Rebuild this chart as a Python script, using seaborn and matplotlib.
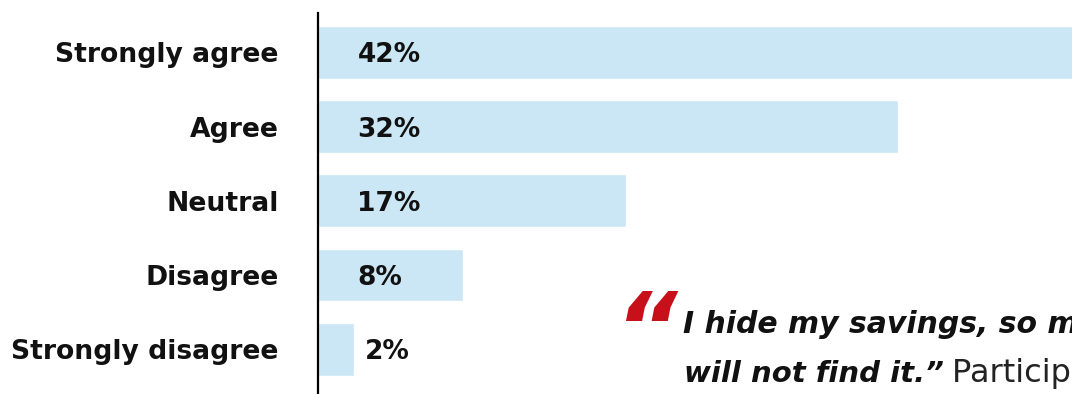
import matplotlib
matplotlib.use("Agg")
import matplotlib.pyplot as plt
import matplotlib.transforms as mtransforms
import seaborn as sns
import pandas as pd

# Survey responses
categories = ["Strongly agree", "Agree", "Neutral", "Disagree", "Strongly disagree"]
shares = [42, 32, 17, 8, 2]
value_labels = ["42%", "32%", "17%", "8%", "2%"]

quote_line1 = "I hide my savings, so my husband"
quote_line2 = "will not find it.\u201d"
quote_source = "Participant, Kampala"

BAR_COLOR = "#CBE7F5"
QUOTE_RED = "#C8101A"

sns.set_theme(style="white")
plt.rcParams["font.family"] = ["DejaVu Sans"]

W, H, DPI = 1072, 394, 100
fig = plt.figure(figsize=(W / DPI, H / DPI), dpi=DPI)

# Axes laid out in pixels; the value axis runs past the right edge
px_per_unit = 18.15
x_max = 50
ax_left = 317.5
ax_width = px_per_unit * x_max
row_px = 74.25
y_top_lim, y_bot_lim = -0.53, 5.0
ax_top = 13
ax_height = (y_bot_lim - y_top_lim) * row_px
ax = fig.add_axes([ax_left / W, (H - ax_top - ax_height) / H, ax_width / W, ax_height / H])

df = pd.DataFrame({"category": categories, "share": shares})
sns.barplot(data=df, x="share", y="category", orient="h", color=BAR_COLOR,
            saturation=1, width=0.71, ax=ax)

ax.set_xlim(0, x_max)
ax.set_ylim(y_bot_lim, y_top_lim)
ax.set_xlabel("")
ax.set_ylabel("")
ax.set_xticks([])
for side in ("top", "right", "bottom"):
    ax.spines[side].set_visible(False)
ax.spines["left"].set_color("black")
ax.spines["left"].set_linewidth(1.6)
ax.tick_params(axis="y", length=0, pad=28)
for lbl in ax.get_yticklabels():
    lbl.set_fontsize(19.2)
    lbl.set_fontweight("bold")
    lbl.set_color("#111111")

# Percentage labels: inside long bars, just past short ones
inside_offset = 40 / px_per_unit
label_shift = mtransforms.ScaledTranslation(0, -10 / DPI, fig.dpi_scale_trans)
for i, (v, txt) in enumerate(zip(shares, value_labels)):
    if v * px_per_unit > 60:
        xpos = inside_offset
    else:
        xpos = v + 11 / px_per_unit
    ax.text(xpos, i, txt, ha="left", va="baseline", fontsize=19,
            fontweight="bold", color="#111111",
            transform=ax.transData + label_shift)

# Quotation
fig.text(614 / W, (H - 361) / H, "\u201c", color=QUOTE_RED, fontsize=70,
         fontweight="bold", style="italic", ha="left", va="baseline")
fig.text(683 / W, (H - 333) / H, quote_line1, fontsize=21.5, fontweight="bold",
         style="italic", color="#111111", ha="left", va="baseline")
t2 = fig.text(684 / W, (H - 382) / H, quote_line2, fontsize=21, fontweight="bold",
              style="italic", color="#111111", ha="left", va="baseline")
fig.canvas.draw()
bb = t2.get_window_extent()
fig.text((bb.x1 + 8) / W, (H - 382) / H, quote_source, fontsize=23, color="#222222",
         ha="left", va="baseline")

fig.savefig("out.png", dpi=DPI)
